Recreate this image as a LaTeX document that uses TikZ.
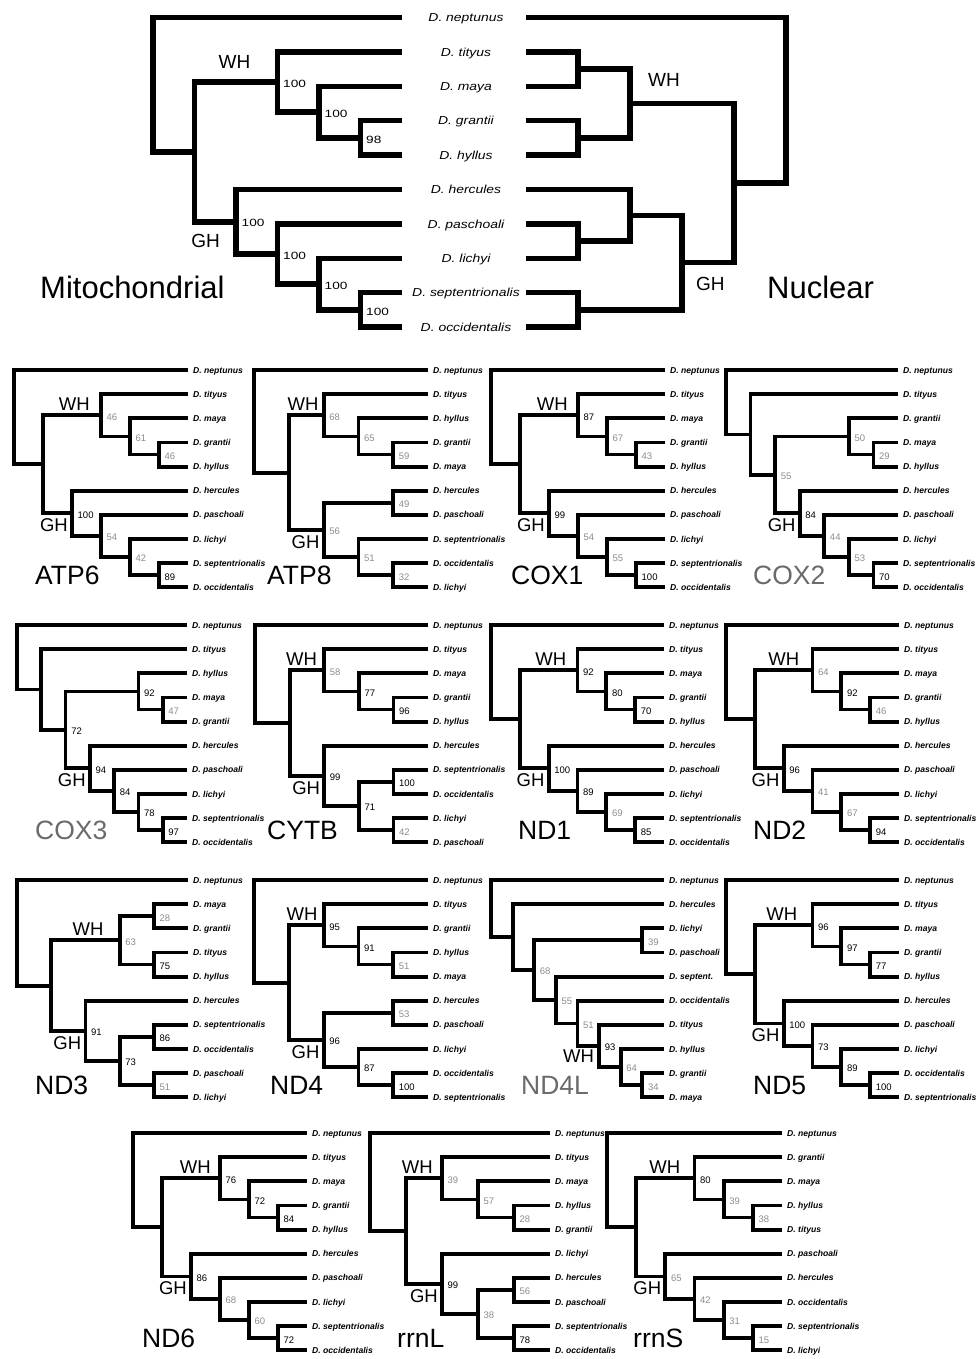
\documentclass[tikz,border=0pt]{standalone}
\usepackage{fontspec}
\setmainfont{Liberation Sans}
\newfontfamily\toplab[FakeStretch=1.2]{Liberation Sans}
\newfontfamily\topnum[FakeStretch=1.3]{Liberation Sans}
\usetikzlibrary{calc}
\definecolor{supgray}{HTML}{8C8C8C}
\definecolor{titlegray}{HTML}{6A6A6A}
\def\DY{24.15}
\def\BW{3.8pt}
\newcommand\Pan[5]{\def\PN{#1}\def\RX{#2}\def\TX{#3}\def\PY{#4}\pgfmathsetmacro\ST{(#3-#2)/#5}}
\newcommand\Lf[3]{\coordinate (\PN-#1) at (\TX,{\PY+#2*\DY});
  \node[lf] (\PN-#1-t) at ($(\PN-#1)+(5,3)$) {D. #3};}
\newcommand\Nd[6]{%
  \path let \p1=($(\PN-#3)!0.5!(\PN-#4)$) in ({(\TX-(#2)*(\ST))*1pt},\y1) coordinate (\PN-#1);
  \draw[br] (\PN-#3) -| (\PN-#1) |- (\PN-#4);
  \if\relax\detokenize{#5}\relax\else\node[sup,#6] (\PN-#1-s) at ($(\PN-#1)+(5.5,1.5)$) {#5};\fi}
\newcommand\WHa[2]{\node[cl,anchor=base east] (\PN-wh-t) at ($(\PN-#1)+(#2,-5)$) {WH};}
\newcommand\WHb[1]{\node[cl,anchor=north east] (\PN-wh-t) at ($(\PN-#1)+(-5,4)$) {WH};}
\newcommand\GHl[1]{\node[cl,anchor=north east] (\PN-gh-t) at ($(\PN-#1)+(-4,5)$) {GH};}
\newcommand\Ti[3]{\node[ttl,text=#3] (\PN-title) at (#1,{\PY+9*\DY-3}) {#2};}
\newcommand\TL[3]{\coordinate (M-#1) at (402,{17.5+#2*34.4});
  \coordinate (N-#1) at (526,{17.5+#2*34.4});
  \node[tlab] (L-#1) at (466,{21.7+#2*34.4}) {D. #3};}
\begin{document}
\begin{tikzpicture}[x=1pt,y=-1pt,
  br/.style={line width=\BW},
  lf/.style={anchor=base west,inner sep=0pt,font=\fontsize{8.6}{9}\selectfont\bfseries\itshape},
  sup/.style={anchor=west,inner sep=0pt,font=\fontsize{9.5}{10}\selectfont},
  g/.style={text=supgray},
  tsup/.style={font=\topnum\fontsize{10.5}{11}\selectfont},
  tlab/.style={anchor=base,inner sep=0pt,font=\toplab\fontsize{11.6}{12}\selectfont\itshape},
  cl/.style={inner sep=0pt,font=\fontsize{18.5}{19}\selectfont},
  tcl/.style={inner sep=0pt,anchor=base west,font=\fontsize{19}{20}\selectfont},
  ttl/.style={inner sep=0pt,anchor=base west,font=\fontsize{26.5}{27}\selectfont},
  big/.style={inner sep=0pt,anchor=base west,font=\fontsize{31}{32}\selectfont}]
\useasboundingbox (0,0) rectangle (976,1359);
% ================= top: mitochondrial vs nuclear =================
\def\BW{5.5pt}
\TL{nep}{0}{neptunus}\TL{tit}{1}{tityus}\TL{may}{2}{maya}\TL{gra}{3}{grantii}\TL{hyl}{4}{hyllus}
\TL{her}{5}{hercules}\TL{pas}{6}{paschoali}\TL{lic}{7}{lichyi}\TL{sep}{8}{septentrionalis}\TL{occ}{9}{occidentalis}
\def\PN{M}\def\TX{402}\def\ST{41.5}
\Nd{a}{1}{gra}{hyl}{98}{tsup}\Nd{b}{2}{may}{a}{100}{tsup}\Nd{wh}{3}{tit}{b}{100}{tsup}
\Nd{c}{1}{sep}{occ}{100}{tsup}\Nd{d}{2}{lic}{c}{100}{tsup}\Nd{e}{3}{pas}{d}{100}{tsup}\Nd{gh}{4}{her}{e}{100}{tsup}
\Nd{i}{5}{wh}{gh}{}{}\Nd{r}{6}{nep}{i}{}{}
\node[tcl,anchor=base east] (M-wh-t) at ($(M-wh)+(-27,-13)$) {WH};
\node[tcl,anchor=base east] (M-gh-t) at ($(M-gh)+(-16,26)$) {GH};
\node[big] (M-title) at (40,298) {Mitochondrial};
\def\PN{N}\def\TX{526}\def\ST{-52}
\Nd{a}{1}{tit}{may}{}{}\Nd{b}{1}{gra}{hyl}{}{}\Nd{wh}{2}{a}{b}{}{}
\Nd{c}{1}{pas}{lic}{}{}\Nd{d}{2}{her}{c}{}{}\Nd{e}{1}{sep}{occ}{}{}\Nd{gh}{3}{d}{e}{}{}
\Nd{i}{4}{wh}{gh}{}{}\Nd{r}{5}{nep}{i}{}{}
\node[tcl] (N-wh-t) at ($(N-wh)+(18,-16.5)$) {WH};
\node[tcl] (N-gh-t) at ($(N-gh)+(14,27.4)$) {GH};
\node[big] (N-title) at (767,298) {Nuclear};
% ================= small gene trees =================
\def\BW{3.8pt}
% ATP6
\Pan{a6}{14}{188}{370}{6}
\Lf{nep}{0}{neptunus}\Lf{tit}{1}{tityus}\Lf{may}{2}{maya}\Lf{gra}{3}{grantii}\Lf{hyl}{4}{hyllus}
\Lf{her}{5}{hercules}\Lf{pas}{6}{paschoali}\Lf{lic}{7}{lichyi}\Lf{sep}{8}{septentrionalis}\Lf{occ}{9}{occidentalis}
\Nd{a}{1}{gra}{hyl}{46}{g}\Nd{b}{2}{may}{a}{61}{g}\Nd{wh}{3}{tit}{b}{46}{g}
\Nd{c}{1}{sep}{occ}{89}{}\Nd{d}{2}{lic}{c}{42}{g}\Nd{e}{3}{pas}{d}{54}{g}\Nd{gh}{4}{her}{e}{100}{}
\Nd{i}{5}{wh}{gh}{}{}\Nd{r}{6}{nep}{i}{}{}
\WHa{wh}{-11}\GHl{gh}\Ti{35}{ATP6}{black}
% ATP8
\Pan{a8}{254}{428}{370}{5}
\Lf{nep}{0}{neptunus}\Lf{tit}{1}{tityus}\Lf{hyl}{2}{hyllus}\Lf{gra}{3}{grantii}\Lf{may}{4}{maya}
\Lf{her}{5}{hercules}\Lf{pas}{6}{paschoali}\Lf{sep}{7}{septentrionalis}\Lf{occ}{8}{occidentalis}\Lf{lic}{9}{lichyi}
\Nd{a}{1}{gra}{may}{59}{g}\Nd{b}{2}{hyl}{a}{65}{g}\Nd{wh}{3}{tit}{b}{68}{g}
\Nd{c}{1}{her}{pas}{49}{g}\Nd{d}{1}{occ}{lic}{32}{g}\Nd{e}{2}{sep}{d}{51}{g}\Nd{gh}{3}{c}{e}{56}{g}
\Nd{i}{4}{wh}{gh}{}{}\Nd{r}{5}{nep}{i}{}{}
\WHa{wh}{-5}\GHl{gh}\Ti{267}{ATP8}{black}
% COX1
\Pan{c1}{491}{665}{370}{6}
\Lf{nep}{0}{neptunus}\Lf{tit}{1}{tityus}\Lf{may}{2}{maya}\Lf{gra}{3}{grantii}\Lf{hyl}{4}{hyllus}
\Lf{her}{5}{hercules}\Lf{pas}{6}{paschoali}\Lf{lic}{7}{lichyi}\Lf{sep}{8}{septentrionalis}\Lf{occ}{9}{occidentalis}
\Nd{a}{1}{gra}{hyl}{43}{g}\Nd{b}{2}{may}{a}{67}{g}\Nd{wh}{3}{tit}{b}{87}{}
\Nd{c}{1}{sep}{occ}{100}{}\Nd{d}{2}{lic}{c}{55}{g}\Nd{e}{3}{pas}{d}{54}{g}\Nd{gh}{4}{her}{e}{99}{}
\Nd{i}{5}{wh}{gh}{}{}\Nd{r}{6}{nep}{i}{}{}
\WHa{wh}{-10}\GHl{gh}\Ti{511}{COX1}{black}
% COX2
\Pan{c2}{726}{898}{370}{7}
\Lf{nep}{0}{neptunus}\Lf{tit}{1}{tityus}\Lf{gra}{2}{grantii}\Lf{may}{3}{maya}\Lf{hyl}{4}{hyllus}
\Lf{her}{5}{hercules}\Lf{pas}{6}{paschoali}\Lf{lic}{7}{lichyi}\Lf{sep}{8}{septentrionalis}\Lf{occ}{9}{occidentalis}
\Nd{a}{1}{may}{hyl}{29}{g}\Nd{b}{2}{gra}{a}{50}{g}
\Nd{c}{1}{sep}{occ}{70}{}\Nd{d}{2}{lic}{c}{53}{g}\Nd{e}{3}{pas}{d}{44}{g}\Nd{gh}{4}{her}{e}{84}{}
\Nd{f}{5}{b}{gh}{55}{g}\Nd{k}{6}{tit}{f}{}{}\Nd{r}{7}{nep}{k}{}{}
\GHl{gh}\Ti{753}{COX2}{titlegray}
% COX3
\Pan{c3}{17}{187}{625}{7}
\Lf{nep}{0}{neptunus}\Lf{tit}{1}{tityus}\Lf{hyl}{2}{hyllus}\Lf{may}{3}{maya}\Lf{gra}{4}{grantii}
\Lf{her}{5}{hercules}\Lf{pas}{6}{paschoali}\Lf{lic}{7}{lichyi}\Lf{sep}{8}{septentrionalis}\Lf{occ}{9}{occidentalis}
\Nd{a}{1}{may}{gra}{47}{g}\Nd{b}{2}{hyl}{a}{92}{}
\Nd{c}{1}{sep}{occ}{97}{}\Nd{d}{2}{lic}{c}{78}{}\Nd{e}{3}{pas}{d}{84}{}\Nd{gh}{4}{her}{e}{94}{}
\Nd{f}{5}{b}{gh}{72}{}\Nd{k}{6}{tit}{f}{}{}\Nd{r}{7}{nep}{k}{}{}
\GHl{gh}\Ti{35}{COX3}{titlegray}
% CYTB
\Pan{cy}{255}{428}{625}{5}
\Lf{nep}{0}{neptunus}\Lf{tit}{1}{tityus}\Lf{may}{2}{maya}\Lf{gra}{3}{grantii}\Lf{hyl}{4}{hyllus}
\Lf{her}{5}{hercules}\Lf{sep}{6}{septentrionalis}\Lf{occ}{7}{occidentalis}\Lf{lic}{8}{lichyi}\Lf{pas}{9}{paschoali}
\Nd{a}{1}{gra}{hyl}{96}{}\Nd{b}{2}{may}{a}{77}{}\Nd{wh}{3}{tit}{b}{58}{g}
\Nd{c}{1}{sep}{occ}{100}{}\Nd{d}{1}{lic}{pas}{42}{g}\Nd{e}{2}{c}{d}{71}{}\Nd{gh}{3}{her}{e}{99}{}
\Nd{i}{4}{wh}{gh}{}{}\Nd{r}{5}{nep}{i}{}{}
\WHa{wh}{-7}\GHl{gh}\Ti{267}{CYTB}{black}
% ND1
\Pan{n1}{491}{664}{625}{6}
\Lf{nep}{0}{neptunus}\Lf{tit}{1}{tityus}\Lf{may}{2}{maya}\Lf{gra}{3}{grantii}\Lf{hyl}{4}{hyllus}
\Lf{her}{5}{hercules}\Lf{pas}{6}{paschoali}\Lf{lic}{7}{lichyi}\Lf{sep}{8}{septentrionalis}\Lf{occ}{9}{occidentalis}
\Nd{a}{1}{gra}{hyl}{70}{}\Nd{b}{2}{may}{a}{80}{}\Nd{wh}{3}{tit}{b}{92}{}
\Nd{c}{1}{sep}{occ}{85}{}\Nd{d}{2}{lic}{c}{69}{g}\Nd{e}{3}{pas}{d}{89}{}\Nd{gh}{4}{her}{e}{100}{}
\Nd{i}{5}{wh}{gh}{}{}\Nd{r}{6}{nep}{i}{}{}
\WHa{wh}{-11}\GHl{gh}\Ti{518}{ND1}{black}
% ND2
\Pan{n2}{726}{899}{625}{6}
\Lf{nep}{0}{neptunus}\Lf{tit}{1}{tityus}\Lf{may}{2}{maya}\Lf{gra}{3}{grantii}\Lf{hyl}{4}{hyllus}
\Lf{her}{5}{hercules}\Lf{pas}{6}{paschoali}\Lf{lic}{7}{lichyi}\Lf{sep}{8}{septentrionalis}\Lf{occ}{9}{occidentalis}
\Nd{a}{1}{gra}{hyl}{46}{g}\Nd{b}{2}{may}{a}{92}{}\Nd{wh}{3}{tit}{b}{64}{g}
\Nd{c}{1}{sep}{occ}{94}{}\Nd{d}{2}{lic}{c}{67}{g}\Nd{e}{3}{pas}{d}{41}{g}\Nd{gh}{4}{her}{e}{96}{}
\Nd{i}{5}{wh}{gh}{}{}\Nd{r}{6}{nep}{i}{}{}
\WHa{wh}{-13}\GHl{gh}\Ti{753}{ND2}{black}
% ND3
\Pan{n3}{17}{188}{880}{5}
\Lf{nep}{0}{neptunus}\Lf{may}{1}{maya}\Lf{gra}{2}{grantii}\Lf{tit}{3}{tityus}\Lf{hyl}{4}{hyllus}
\Lf{her}{5}{hercules}\Lf{sep}{6}{septentrionalis}\Lf{occ}{7}{occidentalis}\Lf{pas}{8}{paschoali}\Lf{lic}{9}{lichyi}
\Nd{a}{1}{may}{gra}{28}{g}\Nd{b}{1}{tit}{hyl}{75}{}\Nd{wh}{2}{a}{b}{63}{g}
\Nd{c}{1}{sep}{occ}{86}{}\Nd{d}{1}{pas}{lic}{51}{g}\Nd{e}{2}{c}{d}{73}{}\Nd{gh}{3}{her}{e}{91}{}
\Nd{i}{4}{wh}{gh}{}{}\Nd{r}{5}{nep}{i}{}{}
\WHa{wh}{-16}\GHl{gh}\Ti{35}{ND3}{black}
% ND4
\Pan{n4}{254}{428}{880}{5}
\Lf{nep}{0}{neptunus}\Lf{tit}{1}{tityus}\Lf{gra}{2}{grantii}\Lf{hyl}{3}{hyllus}\Lf{may}{4}{maya}
\Lf{her}{5}{hercules}\Lf{pas}{6}{paschoali}\Lf{lic}{7}{lichyi}\Lf{occ}{8}{occidentalis}\Lf{sep}{9}{septentrionalis}
\Nd{a}{1}{hyl}{may}{51}{g}\Nd{b}{2}{gra}{a}{91}{}\Nd{wh}{3}{tit}{b}{95}{}
\Nd{c}{1}{her}{pas}{53}{g}\Nd{d}{1}{occ}{sep}{100}{}\Nd{e}{2}{lic}{d}{87}{}\Nd{gh}{3}{c}{e}{96}{}
\Nd{i}{4}{wh}{gh}{}{}\Nd{r}{5}{nep}{i}{}{}
\WHa{wh}{-6}\GHl{gh}\Ti{270}{ND4}{black}
% ND4L
\Pan{n4l}{491}{664}{880}{8}
\Lf{nep}{0}{neptunus}\Lf{her}{1}{hercules}\Lf{lic}{2}{lichyi}\Lf{pas}{3}{paschoali}\Lf{sep}{4}{septent.}
\Lf{occ}{5}{occidentalis}\Lf{tit}{6}{tityus}\Lf{hyl}{7}{hyllus}\Lf{gra}{8}{grantii}\Lf{may}{9}{maya}
\Nd{a}{1}{lic}{pas}{39}{g}\Nd{b}{1}{gra}{may}{34}{g}\Nd{c}{2}{hyl}{b}{64}{g}\Nd{wh}{3}{tit}{c}{93}{}
\Nd{d}{4}{occ}{wh}{51}{g}\Nd{e}{5}{sep}{d}{55}{g}\Nd{f}{6}{a}{e}{68}{g}
\Nd{k}{7}{her}{f}{}{}\Nd{r}{8}{nep}{k}{}{}
\WHb{wh}\Ti{521}{ND4L}{titlegray}
% ND5
\Pan{n5}{726}{899}{880}{6}
\Lf{nep}{0}{neptunus}\Lf{tit}{1}{tityus}\Lf{may}{2}{maya}\Lf{gra}{3}{grantii}\Lf{hyl}{4}{hyllus}
\Lf{her}{5}{hercules}\Lf{pas}{6}{paschoali}\Lf{lic}{7}{lichyi}\Lf{occ}{8}{occidentalis}\Lf{sep}{9}{septentrionalis}
\Nd{a}{1}{gra}{hyl}{77}{}\Nd{b}{2}{may}{a}{97}{}\Nd{wh}{3}{tit}{b}{96}{}
\Nd{c}{1}{occ}{sep}{100}{}\Nd{d}{2}{lic}{c}{89}{}\Nd{e}{3}{pas}{d}{73}{}\Nd{gh}{4}{her}{e}{100}{}
\Nd{i}{5}{wh}{gh}{}{}\Nd{r}{6}{nep}{i}{}{}
\WHa{wh}{-15}\GHl{gh}\Ti{753}{ND5}{black}
% ND6
\Pan{n6}{133}{307}{1133}{6}
\Lf{nep}{0}{neptunus}\Lf{tit}{1}{tityus}\Lf{may}{2}{maya}\Lf{gra}{3}{grantii}\Lf{hyl}{4}{hyllus}
\Lf{her}{5}{hercules}\Lf{pas}{6}{paschoali}\Lf{lic}{7}{lichyi}\Lf{sep}{8}{septentrionalis}\Lf{occ}{9}{occidentalis}
\Nd{a}{1}{gra}{hyl}{84}{}\Nd{b}{2}{may}{a}{72}{}\Nd{wh}{3}{tit}{b}{76}{}
\Nd{c}{1}{sep}{occ}{72}{}\Nd{d}{2}{lic}{c}{60}{g}\Nd{e}{3}{pas}{d}{68}{g}\Nd{gh}{4}{her}{e}{86}{}
\Nd{i}{5}{wh}{gh}{}{}\Nd{r}{6}{nep}{i}{}{}
\WHa{wh}{-9}\GHl{gh}\Ti{142}{ND6}{black}
% rrnL
\Pan{rl}{370}{550}{1133}{5}
\Lf{nep}{0}{neptunus}\Lf{tit}{1}{tityus}\Lf{may}{2}{maya}\Lf{hyl}{3}{hyllus}\Lf{gra}{4}{grantii}
\Lf{lic}{5}{lichyi}\Lf{her}{6}{hercules}\Lf{pas}{7}{paschoali}\Lf{sep}{8}{septentrionalis}\Lf{occ}{9}{occidentalis}
\Nd{a}{1}{hyl}{gra}{28}{g}\Nd{b}{2}{may}{a}{57}{g}\Nd{wh}{3}{tit}{b}{39}{g}
\Nd{c}{1}{her}{pas}{56}{g}\Nd{d}{1}{sep}{occ}{78}{}\Nd{e}{2}{c}{d}{38}{g}\Nd{gh}{3}{lic}{e}{99}{}
\Nd{i}{4}{wh}{gh}{}{}\Nd{r}{5}{nep}{i}{}{}
\WHa{wh}{-9}\GHl{gh}\Ti{397}{rrnL}{black}
% rrnS
\Pan{rs}{607}{782}{1133}{6}
\Lf{nep}{0}{neptunus}\Lf{gra}{1}{grantii}\Lf{may}{2}{maya}\Lf{hyl}{3}{hyllus}\Lf{tit}{4}{tityus}
\Lf{pas}{5}{paschoali}\Lf{her}{6}{hercules}\Lf{occ}{7}{occidentalis}\Lf{sep}{8}{septentrionalis}\Lf{lic}{9}{lichyi}
\Nd{a}{1}{hyl}{tit}{38}{g}\Nd{b}{2}{may}{a}{39}{g}\Nd{wh}{3}{gra}{b}{80}{}
\Nd{c}{1}{sep}{lic}{15}{g}\Nd{d}{2}{occ}{c}{31}{g}\Nd{e}{3}{her}{d}{42}{g}\Nd{gh}{4}{pas}{e}{65}{g}
\Nd{i}{5}{wh}{gh}{}{}\Nd{r}{6}{nep}{i}{}{}
\WHa{wh}{-14}\GHl{gh}\Ti{633}{rrnS}{black}
\end{tikzpicture}
\end{document}
